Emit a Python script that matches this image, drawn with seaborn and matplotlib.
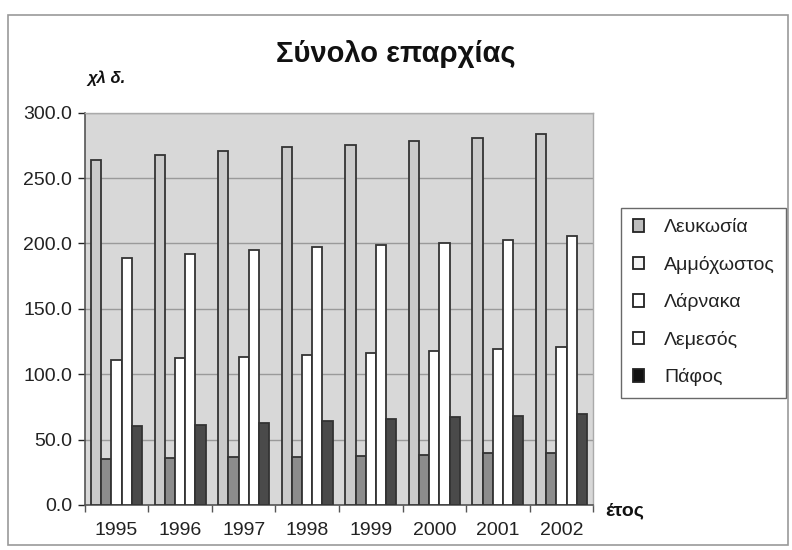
import matplotlib
matplotlib.use("Agg")
import matplotlib.pyplot as plt
from matplotlib.patches import Rectangle
from matplotlib.ticker import FormatStrFormatter, MultipleLocator, FixedLocator
import seaborn as sns
import pandas as pd

years = ["1995", "1996", "1997", "1998", "1999", "2000", "2001", "2002"]
regions = ["Λευκωσία", "Αμμόχωστος", "Λάρνακα", "Λεμεσός", "Πάφος"]
lefkosia = [264.0, 268.0, 271.0, 273.5, 275.5, 278.5, 281.0, 284.0]
ammochostos = [35.0, 36.0, 36.5, 37.0, 37.5, 38.0, 40.0, 40.0]
larnaka = [111.0, 112.5, 113.0, 114.5, 116.0, 117.5, 119.0, 121.0]
lemesos = [188.5, 192.0, 195.0, 197.0, 198.5, 200.0, 203.0, 206.0]
pafos = [60.0, 61.5, 63.0, 64.5, 66.0, 67.5, 68.0, 69.5]

series = [lefkosia, ammochostos, larnaka, lemesos, pafos]
df = pd.DataFrame({
    "year": [y for s in series for y in years],
    "region": [r for r, s in zip(regions, series) for _ in s],
    "value": [v for s in series for v in s],
})

fills = ["#cacaca", "#8c8c8c", "#ffffff", "#ffffff", "#4a4a4a"]
legend_fills = ["#bdbdbd", "#f4f4f4", "#ffffff", "#ffffff", "#111111"]

sns.set_theme(style="white")
plt.rcParams["font.family"] = ["Liberation Sans", "DejaVu Sans"]

fig = plt.figure(figsize=(7.92, 5.5), dpi=100)
ax = fig.add_axes([0.107, 0.082, 0.642, 0.713])
ax.set_facecolor("#d8d8d8")

sns.barplot(data=df, x="year", y="value", hue="region", hue_order=regions,
            palette=dict(zip(regions, fills)), saturation=1, width=0.8,
            edgecolor="#333333", linewidth=1.3, ax=ax, legend=False, zorder=3)

ax.set_ylim(0, 300)
ax.set_xlim(-0.5, len(years) - 0.5)
ax.yaxis.set_major_locator(MultipleLocator(50))
ax.yaxis.set_major_formatter(FormatStrFormatter("%.1f"))
ax.grid(axis="y", color="#9a9a9a", linewidth=1.0, zorder=0)
ax.set_axisbelow(True)
ax.set_xlabel("")
ax.set_ylabel("")

for side in ["left", "bottom"]:
    ax.spines[side].set_color("#555555")
    ax.spines[side].set_linewidth(1.2)
for side in ["top", "right"]:
    ax.spines[side].set_color("#aaaaaa")
    ax.spines[side].set_linewidth(1.0)

ax.tick_params(axis="y", labelsize=14, colors="#222222", length=5, width=1,
               direction="out", left=True, pad=4)
ax.tick_params(axis="x", labelsize=14, colors="#222222", length=0, pad=12)
ax.xaxis.set_minor_locator(FixedLocator([i - 0.5 for i in range(len(years) + 1)]))
ax.tick_params(axis="x", which="minor", length=5, width=1, color="#555555",
               direction="out", bottom=True)

fig.text(0.5, 0.902, "Σύνολο επαρχίας", ha="center", va="center",
         fontsize=21, fontweight="bold", color="#111111")
fig.text(0.111, 0.857, "χλ δ.", ha="left", va="center", fontsize=12,
         fontweight="bold", fontstyle="italic", color="#111111")
fig.text(0.764, 0.071, "έτος", ha="left", va="center", fontsize=14,
         fontweight="bold", color="#111111")

handles = [Rectangle((0, 0), 1, 1, facecolor=c, edgecolor="#222222", linewidth=1.3)
           for c in legend_fills]
leg = fig.legend(handles, regions, loc="upper left",
                 bbox_to_anchor=(0.772, 0.64), frameon=True, fontsize=14,
                 handlelength=0.6, handleheight=0.6, handletextpad=1.0,
                 labelspacing=1.0, borderpad=0.6, fancybox=False,
                 edgecolor="#444444")
leg.get_frame().set_linewidth(1.0)
for t in leg.get_texts():
    t.set_color("#222222")

fig.patches.append(Rectangle((0.01, 0.01), 0.985, 0.962, transform=fig.transFigure,
                             fill=False, edgecolor="#999999", linewidth=1.2))

fig.savefig("out.png", dpi=100, facecolor="white")
